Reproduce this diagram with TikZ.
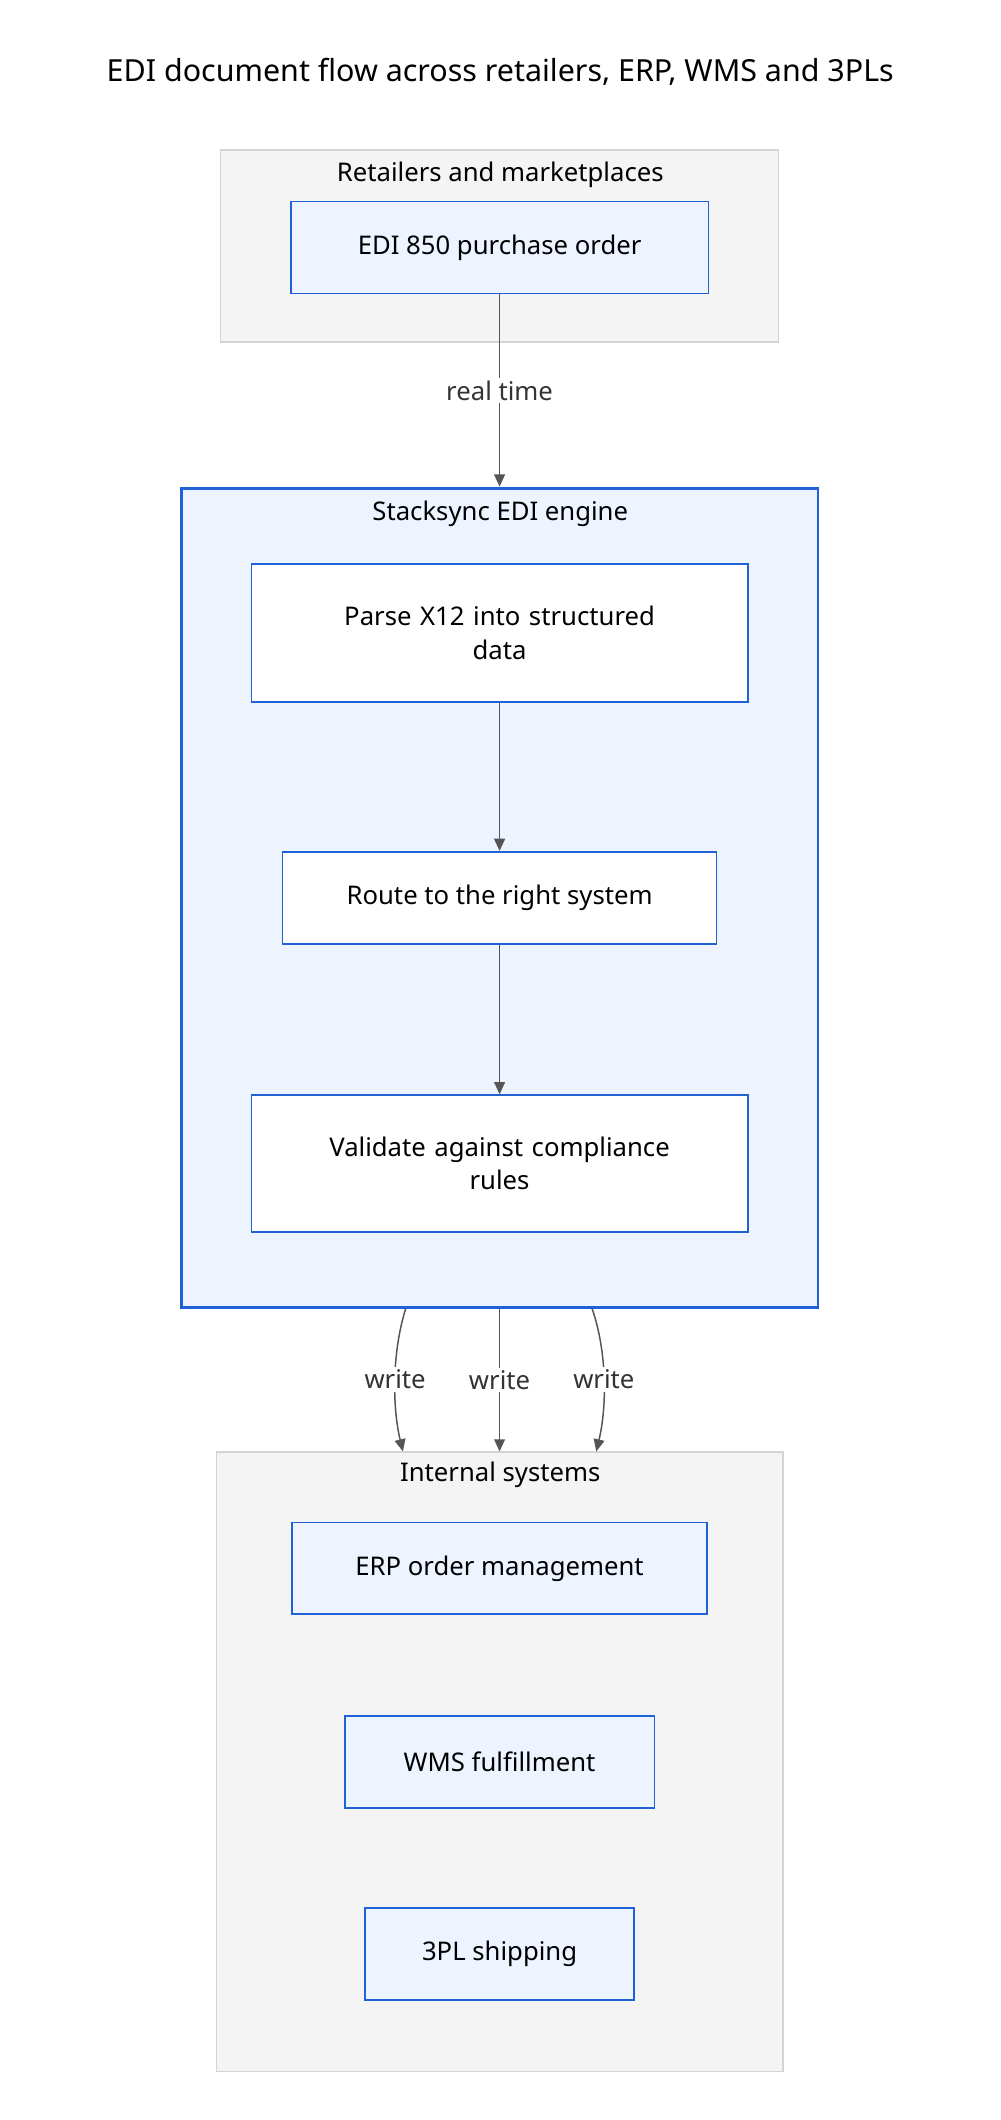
\documentclass[tikz,border=0pt]{standalone}
\usepackage{fontspec}
\setmainfont{Noto Sans}
\usetikzlibrary{arrows.meta}
\definecolor{nfill}{HTML}{EEF4FF}
\definecolor{nbord}{HTML}{1F62D6}
\definecolor{gfill}{HTML}{F4F4F4}
\definecolor{gbord}{HTML}{D4D4D4}
\definecolor{arr}{HTML}{555555}
\begin{document}
\begin{tikzpicture}[x=1pt,y=-1pt,
  box/.style={draw=nbord,line width=1.3pt,fill=nfill,inner sep=0pt,font=\fontsize{19}{25}\selectfont,align=center},
  wbox/.style={box,fill=white},
  grp/.style={draw=gbord,line width=1pt,fill=gfill},
  lbl/.style={font=\fontsize{19}{24}\selectfont,text=black},
  conn/.style={draw=arr,line width=1.1pt,-{Triangle[length=9pt,width=8pt]}},
  elbl/.style={font=\fontsize{19}{24}\selectfont,text=black!80,fill=white,inner sep=2pt}]
\useasboundingbox (0,0) rectangle (740,1568);
\node[font=\fontsize{22.5}{28}\selectfont] (title) at (370,53) {EDI document flow across retailers, ERP, WMS and 3PLs};
% retailers
\draw[grp] (163,111) rectangle (576,253);
\node[lbl] (rl) at (370,129) {Retailers and marketplaces};
\node[box,minimum width=309pt,minimum height=68pt] (edi) at (369.5,183) {EDI 850 purchase order};
% engine
\node[draw=nbord,line width=2.2pt,fill=nfill,minimum width=471pt,minimum height=606pt,inner sep=0pt] (eng) at (369.5,664) {};
\node[lbl] (el) at (370,380) {Stacksync EDI engine};
\node[wbox,minimum width=367pt,minimum height=102pt,text width=300pt] (parse) at (369.5,468) {Parse X12 into structured\\data};
\node[wbox,minimum width=321pt,minimum height=68pt] (route) at (369.5,664) {Route to the right system};
\node[wbox,minimum width=367pt,minimum height=101pt,text width=300pt] (valid) at (369.5,860.5) {Validate against compliance\\rules};
% internal
\node[grp,minimum width=419pt,minimum height=458pt,inner sep=0pt] (int) at (369.5,1303) {};
\node[lbl] (il) at (370,1091) {Internal systems};
\node[box,minimum width=307pt,minimum height=68pt] (erp) at (369.5,1160) {ERP order management};
\node[box,minimum width=229pt,minimum height=68pt] (wms) at (369.5,1303) {WMS fulfillment};
\node[box,minimum width=199pt,minimum height=68pt] (tpl) at (369.5,1445) {3PL shipping};
% connectors
\draw[conn] (edi.south) -- node[elbl]{real time} (eng.north);
\draw[conn] (parse.south) -- (route.north);
\draw[conn] (route.south) -- (valid.north);
\draw[conn] (eng.south -| 300,0) .. controls (290,1000) and (290,1040) .. node[elbl,pos=0.5]{write} (int.north -| 298,0);
\draw[conn] (eng.south) -- node[elbl]{write} (int.north);
\draw[conn] (eng.south -| 438,0) .. controls (449,1000) and (449,1040) .. node[elbl,pos=0.5]{write} (int.north -| 441,0);
\end{tikzpicture}
\end{document}
